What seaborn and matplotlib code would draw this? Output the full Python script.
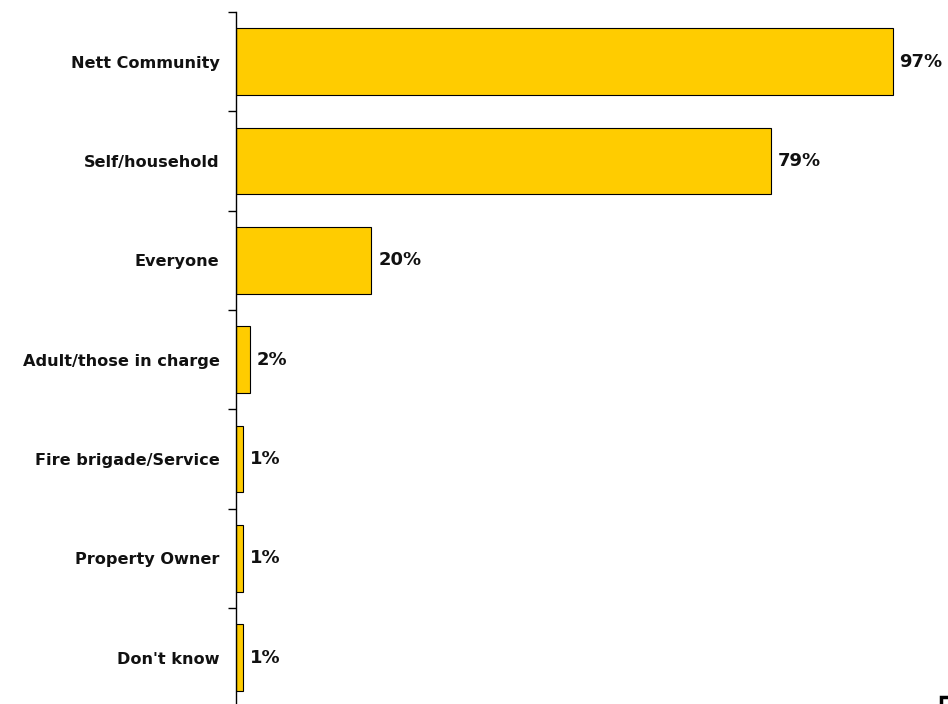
import matplotlib
matplotlib.use("Agg")
import matplotlib.pyplot as plt
import matplotlib.patches as mpatches
import seaborn as sns
import pandas as pd
import numpy as np

categories = ["Nett Community", "Self/household", "Everyone", "Adult/those in charge",
              "Fire brigade/Service", "Property Owner", "Don't know"]
values = [97, 79, 20, 2, 1, 1, 1]
value_labels = ["97%", "79%", "20%", "2%", "1%", "1%", "1%"]

sns.set_theme(style="white")
plt.rcParams["font.family"] = ["DejaVu Sans"]

df = pd.DataFrame({"category": categories, "value": values})

fig = plt.figure(figsize=(9.48, 7.04), dpi=100)
ax = fig.add_axes([0.249, 0.0, 0.751, 0.983])

sns.barplot(data=df, y="category", x="value", orient="h", color="#FFCC00",
            saturation=1, edgecolor="black", linewidth=0.8, width=0.67, ax=ax)

ax.set_xlim(0, 105.2)
ax.set_ylim(6.467, -0.5)
ax.set_xlabel("")
ax.set_ylabel("")
ax.set_xticks([])

for s in ["top", "right", "bottom"]:
    ax.spines[s].set_visible(False)
ax.spines["left"].set_color("black")
ax.spines["left"].set_linewidth(1.0)

ax.set_yticks(range(len(categories)))
ax.set_yticklabels(categories, fontsize=11.6, fontweight="bold", color="#111111")
ax.tick_params(axis="y", which="major", length=0, pad=12)
ax.set_yticks(np.arange(-0.5, len(categories) - 0.5, 1.0), minor=True)
ax.tick_params(axis="y", which="minor", length=6, width=1.0, color="black", left=True)

for i, (v, lab) in enumerate(zip(values, value_labels)):
    ax.annotate(lab, xy=(v, i), xytext=(5, 0), textcoords="offset points",
                ha="left", va="center", fontsize=13, fontweight="bold", color="#111111")

# corner of the page-number frame at the lower right
fig.patches.append(mpatches.Rectangle((941 / 948, -0.05), 0.05, 7 / 704 + 0.05,
                                      transform=fig.transFigure, fill=False,
                                      edgecolor="black", linewidth=2.5))

fig.savefig("out.png", dpi=100)
